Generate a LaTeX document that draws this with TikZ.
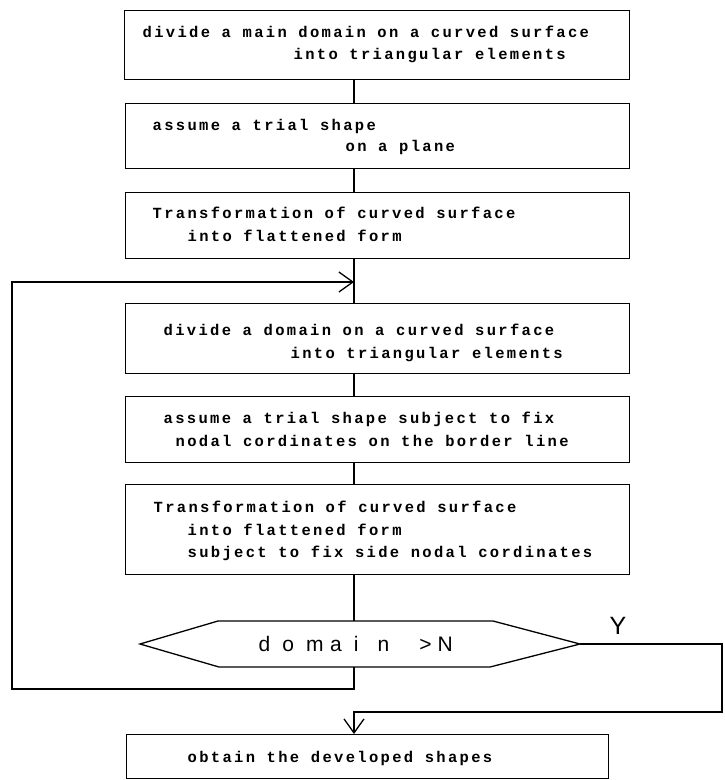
\documentclass[tikz,border=0pt]{standalone}
\usepackage{fontspec}
\setmainfont{Liberation Sans}
\newfontfamily\boxfont[LetterSpace=15]{Liberation Mono}
\usetikzlibrary{arrows.meta}
\newcommand\cbx[1]{\makebox[23.8pt][l]{#1}}
\begin{document}
\begin{tikzpicture}[x=1pt,y=-1pt,line width=1.3pt,
  boxnode/.style={draw,rectangle,inner sep=0pt,anchor=north west},
  txt/.style={anchor=base west,inner sep=0pt,font=\boxfont\bfseries\fontsize{15.5}{18}\selectfont},
  tip/.style={-{Straight Barb[length=14pt,width=20pt]}}]
\useasboundingbox (0,0) rectangle (725,780);
% boxes
\node[boxnode,minimum width=505pt,minimum height=69pt] (b1) at (124,10) {};
\node[boxnode,minimum width=504pt,minimum height=65pt] (b2) at (125,103) {};
\node[boxnode,minimum width=504pt,minimum height=66pt] (b3) at (125,192) {};
\node[boxnode,minimum width=504pt,minimum height=70pt] (b4) at (125,303) {};
\node[boxnode,minimum width=504pt,minimum height=66pt] (b5) at (125,396) {};
\node[boxnode,minimum width=504pt,minimum height=90pt] (b6) at (125,484) {};
\node[boxnode,minimum width=482pt,minimum height=44pt] (b7) at (126,734) {};
% texts
\node[txt] (t1a) at (142,37) {divide a main domain on a curved surface};
\node[txt] (t1b) at (293,59) {into triangular elements};
\node[txt] (t2a) at (152,130) {assume a trial shape};
\node[txt] (t2b) at (345,151) {on a plane};
\node[txt] (t3a) at (152,218) {Transformation of curved surface};
\node[txt] (t3b) at (187,241) {into flattened form};
\node[txt] (t4a) at (163,335) {divide a domain on a curved surface};
\node[txt] (t4b) at (290,358) {into triangular elements};
\node[txt] (t5a) at (163,423) {assume a trial shape subject to fix};
\node[txt] (t5b) at (175,446) {nodal cordinates on the border line};
\node[txt] (t6a) at (153,512) {Transformation of curved surface};
\node[txt] (t6b) at (187,535) {into flattened form};
\node[txt] (t6c) at (187,557) {subject to fix side nodal cordinates};
\node[txt] (t7) at (187,762) {obtain the developed shapes};
% decision hexagon
\coordinate (dl) at (140,644);
\coordinate (dtl) at (218,621);
\coordinate (dtr) at (493,621);
\coordinate (dr) at (580,644);
\coordinate (dbr) at (490,667);
\coordinate (dbl) at (219,667);
\draw (dl) -- (dtl) -- (dtr) -- (dr) -- (dbr) -- (dbl) -- cycle;
\node[anchor=base west,inner sep=0pt,font=\fontsize{21}{24}\selectfont] (dec) at (258,651)
  {\cbx{d}\cbx{o}\cbx{m}\cbx{a}\cbx{i}\cbx{n}\hspace{18pt}>\hspace{6pt}N};
\node[font=\fontsize{25}{28}\selectfont,inner sep=0pt] (ylab) at (618,626) {Y};
% spine
\coordinate (sp) at (354,0);
\coordinate (dt) at (354,621);
\coordinate (db) at (354,667);
\coordinate (join) at (354,282);
\coordinate (c1) at (12,689);
\coordinate (yr) at (722,712);
\draw (sp |- b1.south) -- (sp |- b2.north);
\draw (sp |- b2.south) -- (sp |- b3.north);
\draw (sp |- b3.south) -- (sp |- b4.north);
\draw (sp |- b4.south) -- (sp |- b5.north);
\draw (sp |- b5.south) -- (sp |- b6.north);
\draw (sp |- b6.south) -- (dt);
\draw[tip] (db) |- (c1) |- (join);
\draw[tip] (dr) -| (yr) -| (sp |- b7.north);
\end{tikzpicture}
\end{document}
